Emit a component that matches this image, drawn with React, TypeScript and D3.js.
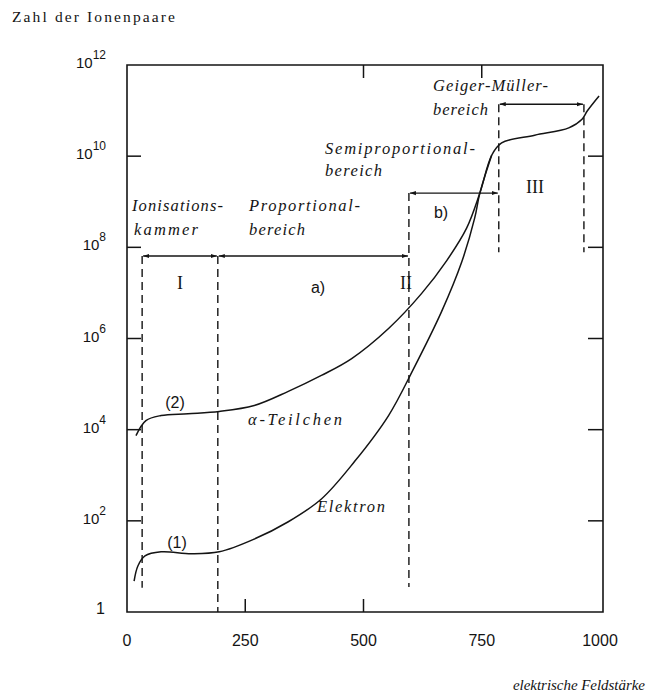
import React from 'react';
import * as d3 from 'd3';

// Axis ticks and labels
const fieldLabels = [0, 250, 500, 750, 1000];
const bottomTicks = [250, 500];
const topTicks = [500, 750];
const exponentLabels = [0, 2, 4, 6, 8, 10, 12];
const sideTicks = [2, 4, 6, 8, 10];

// Curve (2): alpha particle — field strength vs. log10(ion pairs)
const alphaField = [19, 40, 72, 129, 195, 269, 341, 411, 475, 553, 623, 676, 718, 746, 771, 792, 862, 934, 962, 973, 998];
const alphaExp = [3.87, 4.2, 4.31, 4.35, 4.4, 4.53, 4.84, 5.19, 5.56, 6.22, 6.99, 7.71, 8.42, 9.19, 10.02, 10.29, 10.46, 10.62, 10.81, 10.99, 11.32];

// Curve (1): electron
const electronField = [15, 23, 38, 72, 136, 195, 269, 341, 411, 481, 553, 606, 665, 708, 735, 746, 771];
const electronExp = [0.68, 1.01, 1.23, 1.32, 1.28, 1.32, 1.6, 1.98, 2.48, 3.3, 4.31, 5.34, 6.59, 7.69, 8.64, 9.19, 10.02];

// Region boundaries (dashed verticals)
const boundaryField = [32, 192, 596, 786, 966];
const boundaryTop = [7.81, 7.81, 9.19, 11.14, 11.14];
const boundaryBottom = [0.53, 0, 0.55, 7.89, 7.89];

// Range brackets: [from, to, exponent level]
const bracketFrom = [32, 192, 596, 786];
const bracketTo = [192, 596, 786, 966];
const bracketExp = [7.81, 7.81, 9.19, 11.14];

const W = 651;
const H = 697;
const ink = '#141414';
const serif = '"Liberation Serif", "DejaVu Serif", serif';
const sans = '"Liberation Sans Narrow", "Liberation Sans", "DejaVu Sans Condensed", sans-serif';

export default function App() {
  const x = d3.scaleLinear().domain([0, 1000]).range([127, 600]);
  const y = d3.scaleLog().domain([1, 1e12]).range([612, 65]);
  const yE = (e: number) => y(Math.pow(10, e));

  const line = d3
    .line<[number, number]>()
    .x((d) => x(d[0]))
    .y((d) => yE(d[1]))
    .curve(d3.curveCatmullRom.alpha(0.5));

  const alphaPts = alphaField.map((f, i) => [f, alphaExp[i]] as [number, number]);
  const electronPts = electronField.map((f, i) => [f, electronExp[i]] as [number, number]);

  const x0 = x(0);
  const x1 = x(1000);
  const yTop = yE(12);
  const yBot = yE(0);

  const italic = (s: string, px: number, py: number, len: number, size = 16.5) => (
    <text
      x={px}
      y={py}
      fontFamily={serif}
      fontStyle="italic"
      fontSize={size}
      fill={ink}
      textLength={len}
      lengthAdjust="spacing"
    >
      {s}
    </text>
  );

  return (
    <svg
      width={W}
      height={H}
      viewBox={`0 0 ${W} ${H}`}
      style={{ position: 'absolute', left: 0, top: 0, background: '#fff' }}
    >
      <defs>
        <marker id="arr" viewBox="0 0 10 10" refX="10" refY="5" markerWidth="6" markerHeight="6" orient="auto-start-reverse" markerUnits="userSpaceOnUse">
          <path d="M0,1.5 L10,5 L0,8.5 Z" fill={ink} />
        </marker>
      </defs>
      <rect width={W} height={H} fill="#fff" />

      {/* Frame: left axis, bottom axis, top and right borders */}
      <path
        d={`M${x0},${yTop} L${x0},${yBot} L${x1 + 3},${yBot} L${x1 + 3},${yTop} Z`}
        fill="none"
        stroke={ink}
        strokeWidth={1.6}
      />

      {/* Inward ticks */}
      {sideTicks.map((e) => (
        <line key={'l' + e} x1={x0} x2={x0 + 14} y1={yE(e)} y2={yE(e)} stroke={ink} strokeWidth={1.5} />
      ))}
      {sideTicks.map((e) => (
        <line key={'r' + e} x1={x1 + 3} x2={x1 - 12} y1={yE(e)} y2={yE(e)} stroke={ink} strokeWidth={1.5} />
      ))}
      {bottomTicks.map((f) => (
        <line key={'b' + f} x1={x(f)} x2={x(f)} y1={yBot} y2={yBot - 13} stroke={ink} strokeWidth={1.5} />
      ))}
      {topTicks.map((f) => (
        <line key={'t' + f} x1={x(f)} x2={x(f)} y1={yTop} y2={yTop + 13} stroke={ink} strokeWidth={1.5} />
      ))}

      {/* Y tick labels */}
      {exponentLabels.map((e) =>
        e === 0 ? (
          <text key={'yl' + e} x={105} y={yE(e) + 2} textAnchor="end" fontFamily={sans} fontSize={16} fill={ink}>
            1
          </text>
        ) : (
          <text key={'yl' + e} x={106} y={yE(e) + 3} textAnchor="end" fontFamily={sans} fontSize={15} fill={ink}>
            10
            <tspan dy={-9} fontSize={12}>
              {e}
            </tspan>
          </text>
        )
      )}

      {/* X tick labels */}
      {fieldLabels.map((f) => (
        <text key={'xl' + f} x={x(f)} y={646} textAnchor="middle" fontFamily={sans} fontSize={16} fill={ink}>
          {f}
        </text>
      ))}

      {/* Region boundaries */}
      {boundaryField.map((f, i) => (
        <line
          key={'d' + i}
          x1={x(f)}
          x2={x(f)}
          y1={yE(boundaryTop[i])}
          y2={yE(boundaryBottom[i])}
          stroke={ink}
          strokeWidth={1.4}
          strokeDasharray="8 5"
        />
      ))}

      {/* Range brackets */}
      {bracketFrom.map((f, i) => (
        <line
          key={'br' + i}
          x1={x(f) + 1}
          x2={x(bracketTo[i]) - 1}
          y1={yE(bracketExp[i])}
          y2={yE(bracketExp[i])}
          stroke={ink}
          strokeWidth={1.4}
          markerStart="url(#arr)"
          markerEnd="url(#arr)"
        />
      ))}

      {/* Characteristic curves */}
      <path d={line(alphaPts) ?? ''} fill="none" stroke={ink} strokeWidth={1.5} />
      <path d={line(electronPts) ?? ''} fill="none" stroke={ink} strokeWidth={1.5} />

      {/* Region names */}
      {italic('Ionisations-', 132, 211, 91)}
      {italic('kammer', 134, 235, 64)}
      {italic('Proportional-', 249, 211, 111)}
      {italic('bereich', 249, 235, 56)}
      {italic('Semiproportional-', 325, 154, 150)}
      {italic('bereich', 325, 176, 57)}
      {italic('Geiger-Müller-', 433, 91, 115)}
      {italic('bereich', 433, 115, 55)}

      {/* Region numerals and sub-labels */}
      <text x={180} y={289} textAnchor="middle" fontFamily={serif} fontSize={18} fill={ink}>I</text>
      <text x={406} y={289} textAnchor="middle" fontFamily={serif} fontSize={18} fill={ink}>II</text>
      <text x={535} y={193} textAnchor="middle" fontFamily={serif} fontSize={18} fill={ink}>III</text>
      <text x={318} y={293} textAnchor="middle" fontFamily={sans} fontSize={16} fill={ink}>a)</text>
      <text x={441} y={218} textAnchor="middle" fontFamily={sans} fontSize={16} fill={ink}>b)</text>

      {/* Curve labels */}
      <text x={175} y={408} textAnchor="middle" fontFamily={sans} fontSize={16} fill={ink}>(2)</text>
      <text x={177} y={548} textAnchor="middle" fontFamily={sans} fontSize={16} fill={ink}>(1)</text>
      {italic('α-Teilchen', 248, 425, 94)}
      {italic('Elektron', 317, 512, 68)}

      {/* Axis titles */}
      <text x={12} y={22} fontFamily={serif} fontSize={15.5} fill={ink} textLength={163} lengthAdjust="spacing">
        Zahl der Ionenpaare
      </text>
      {italic('elektrische Feldstärke', 513, 690, 132, 15)}
    </svg>
  );
}
